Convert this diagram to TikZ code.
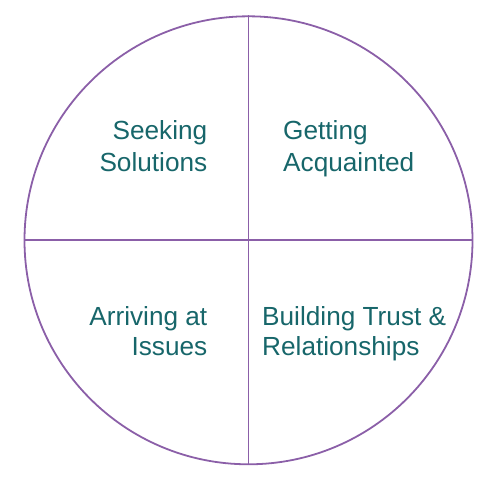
\documentclass[tikz,border=0pt]{standalone}
\usepackage{fontspec}
\setmainfont{Liberation Sans}
\definecolor{purp}{HTML}{8B5FA8}
\definecolor{teal2}{HTML}{17666A}
\begin{document}
\begin{tikzpicture}[x=1pt,y=-1pt,
  lbl/.style={text=teal2, font=\fontsize{26.2}{30}\selectfont, inner sep=0pt},
  lr/.style={lbl, anchor=base east},
  ll/.style={lbl, anchor=base west},
  ring/.style={draw=purp, line width=1.8pt}]
\useasboundingbox (0,0) rectangle (498,480);
\node[circle, ring, minimum size=448pt, inner sep=0pt] (c) at (248.5,240.3) {};
\draw[ring] (c.west) -- (c.east);
\draw[ring] (c.north) -- (c.south);
\node[lr] (s1) at (207.5,139.5) {Seeking};
\node[lr] (s2) at (207.5,171.5) {Solutions};
\node[ll] (g1) at (283,139.5) {Getting};
\node[ll] (g2) at (283,171.5) {Acquainted};
\node[lr] (a1) at (207.5,325.5) {Arriving at};
\node[lr] (a2) at (207.5,355) {Issues};
\node[ll] (b1) at (262,325.5) {Building Trust \&};
\node[ll] (b2) at (262,355) {Relationships};
\end{tikzpicture}
\end{document}
